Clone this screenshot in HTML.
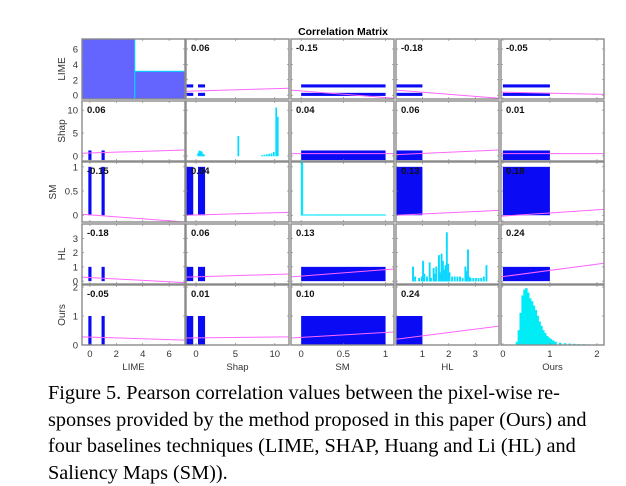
<!DOCTYPE html>
<html><head><meta charset="utf-8">
<style>
body{margin:0;background:#fff;width:626px;height:486px;overflow:hidden;position:relative}
svg{position:absolute;left:0;top:0}
#cap{position:absolute;left:48px;top:380px;width:502px;font-family:"Liberation Serif",serif;font-size:20.3px;line-height:26.5px;color:#000}
#cap div{text-align:justify;text-align-last:justify;white-space:nowrap}
#cap div.last{text-align-last:left}
</style></head><body>
<svg id="chart" width="626" height="372" xmlns="http://www.w3.org/2000/svg" font-family="Liberation Sans, sans-serif">
<text x="343" y="35" text-anchor="middle" font-size="10.5" font-weight="bold">Correlation Matrix</text>
</svg>
<div id="cap"><div>Figure 5. Pearson correlation values between the pixel-wise re-</div><div>sponses provided by the method proposed in this paper (Ours) and</div><div>four baselines techniques (LIME, SHAP, Huang and Li (HL) and</div><div class="last">Saliency Maps (SM)).</div></div>
<script>
const varNames=["LIME","Shap","SM","HL","Ours"];
const corr=[[null,0.06,-0.15,-0.18,-0.05],[0.06,null,0.04,0.06,0.01],[-0.15,0.04,null,0.13,0.18],[-0.18,0.06,0.13,null,0.24],[-0.05,0.01,0.10,0.24,null]];
// fit lines: value at left edge / right edge of panel [row][col]
const fitLeft=[[null,0.5,0.65,0.65,0.4],[0.6,null,0.5,0.3,0.5],[0.02,0.0,null,0.0,-0.02],[0.28,0.28,0.3,null,0.3],[0.28,0.24,0.24,0.2,null]];
const fitRight=[[null,0.9,-0.4,-0.4,0.1],[1.3,null,0.5,1.3,0.5],[-0.14,0.06,null,0.1,0.12],[-0.1,0.5,0.85,null,1.25],[0.17,0.28,0.45,0.65,null]];
// value clusters per variable (min,max segments)
const clusterMin=[[-0.12,0.88],[-1.2,0.25],[0],[0],[0]];
const clusterMax=[[0.12,1.12],[-0.35,1.15],[1],[1],[1]];
const bandMinY=[[-0.1,1.0],[-0.9],[0],[0],[0]];
const bandMaxY=[[0.3,1.4],[1.2],[1],[1],[1]];
const xTicks=[[0,2,4,6],[0,5,10],[0,0.5,1],[1,2,3],[0,1,2]];
const yTicks=[[0,2,4,6],[0,5,10],[0,0.5,1],[0,1,2,3],[0,1,2]];
const xMin=[-0.6,-1.27,-0.12,0,-0.04], xMax=[7.2,11.8,1.1,3.9,2.15];
const yMin=[-0.5,-1.1,-0.14,-0.2,0], yMax=[7.3,12,1.1,4.0,2.07];
// histograms
const limeHistX=[-0.6,3.4], limeHistW=[4.0,3.8], limeHistH=[7.3,3.1];
const shapHistX=[0.2,0.35,0.5,0.65,0.8,0.95,5.3,8.3,8.6,8.9,9.2,9.5,9.8,10.1,10.3];
const shapHistH=[0.6,1.1,1.0,0.9,0.4,0.2,4.3,0.1,0.2,0.3,0.4,0.5,0.8,10.5,8.5];
const smHistX=[0.0,0.02,0.2,0.4,0.6,0.8], smHistH=[1.12,0.01,0.01,0.01,0.01,0.01];
const hlHistX=[0.62,0.7,0.85,0.95,1.0,1.05,1.15,1.25,1.3,1.4,1.45,1.5,1.6,1.65,1.7,1.75,1.8,1.85,1.9,1.95,2.0,2.1,2.2,2.3,2.4,2.5,2.6,2.65,2.7,2.75,2.8,2.9,3.0,3.1,3.2,3.3,3.4];
const hlHistH=[1.0,0.3,0.2,0.3,1.4,0.5,0.3,1.3,0.2,0.9,0.5,1.0,1.8,0.6,1.9,1.4,0.8,1.1,3.4,1.2,0.6,0.3,0.3,0.3,0.3,0.2,1.0,0.7,2.2,0.3,0.2,0.2,0.2,0.2,0.2,0.3,1.1];
const oursHistX=[0.28,0.32,0.36,0.4,0.44,0.48,0.52,0.56,0.6,0.64,0.68,0.72,0.76,0.8,0.84,0.88,0.92,0.96,1.0,1.05,1.1,1.2,1.3,1.4,1.5,1.6,1.7,1.8];
const oursHistH=[0.1,0.5,1.1,1.7,1.9,1.95,1.8,1.6,1.5,1.35,1.2,1.0,0.8,0.65,0.5,0.4,0.3,0.25,0.2,0.15,0.1,0.07,0.05,0.04,0.03,0.02,0.02,0.01];
const smHistW=[0.02,0.2,0.2,0.2,0.2,0.2];

const svg=document.getElementById('chart');
const NS="http://www.w3.org/2000/svg";
const colL=[82,186,291,396,501], PW=103;
const rowT=[39,101,162,224,285], PH=60;
function sx(c,v){return colL[c]+(v-xMin[c])/(xMax[c]-xMin[c])*PW;}
function sy(r,v){return rowT[r]+PH-(v-yMin[r])/(yMax[r]-yMin[r])*PH;}
function mk(tag,attrs){const e=document.createElementNS(NS,tag);for(const k in attrs)e.setAttribute(k,attrs[k]);svg.appendChild(e);return e;}
function bars(r,c,xs,hs,w,fill,stroke){
  for(let i=0;i<xs.length;i++){
    const ww=Array.isArray(w)?w[i]:w;
    const x0=sx(c,xs[i]),x1=sx(c,xs[i]+ww),y=sy(r,hs[i]),yb=sy(r,Math.max(0,yMin[r]));
    const e=mk('rect',{x:x0,y:y,width:Math.max(1,x1-x0),height:Math.max(0.5,yb-y),fill:fill,stroke:stroke,'stroke-width':0.6});
    
    
  }
}
for(let r=0;r<5;r++)for(let c=0;c<5;c++){
  const g=mk('rect',{x:colL[c],y:rowT[r],width:PW,height:PH,fill:'#fff',stroke:'none'});
  
  
  if(r===c){
    if(r===0){for(let i=0;i<2;i++){const e=mk('rect',{x:sx(0,limeHistX[i]),y:sy(0,limeHistH[i]),width:sx(0,limeHistX[i]+limeHistW[i])-sx(0,limeHistX[i]),height:sy(0,yMin[0])-sy(0,limeHistH[i]),fill:'#6464ff',stroke:'#00dcff','stroke-width':1});}}
    if(r===1)bars(1,1,shapHistX,shapHistH,0.15,'#1ec8ff','#00e5ff');
    if(r===2)bars(2,2,smHistX,smHistH,smHistW,'#00e5ff','#00e5ff');
    if(r===3)bars(3,3,hlHistX,hlHistH,0.05,'#1ec8ff','#00e5ff');
    if(r===4)bars(4,4,oursHistX,oursHistH,0.04,'#00f0f0','#00e5ff');
  } else {
    for(let a=0;a<clusterMin[c].length;a++)for(let b=0;b<bandMinY[r].length;b++){
      const x0=Math.max(colL[c],sx(c,clusterMin[c][a])),x1=sx(c,clusterMax[c][a]);
      const y0=sy(r,bandMaxY[r][b]),y1=Math.min(rowT[r]+PH,sy(r,bandMinY[r][b]));
      const e=mk('rect',{x:x0,y:y0,width:x1-x0,height:y1-y0,fill:'#0a0af5'});
      
      
    }
    const l=mk('line',{x1:colL[c],y1:sy(r,fitLeft[r][c]),x2:colL[c]+PW,y2:sy(r,fitRight[r][c]),stroke:'#ff66ff','stroke-width':1});
    
    
    const t=mk('text',{x:colL[c]+5,y:rowT[r]+12,'font-size':9.5,'font-weight':'bold',fill:'#111'});
    t.textContent=corr[r][c].toFixed(2);
    
    
  }
  for(const v of xTicks[c]){const x=sx(c,v);mk('line',{x1:x,y1:rowT[r]+PH,x2:x,y2:rowT[r]+PH-2,stroke:'#777','stroke-width':0.6});mk('line',{x1:x,y1:rowT[r],x2:x,y2:rowT[r]+2,stroke:'#777','stroke-width':0.6});}
  for(const v of yTicks[r]){const y=sy(r,v);mk('line',{x1:colL[c],y1:y,x2:colL[c]+2,y2:y,stroke:'#777','stroke-width':0.6});mk('line',{x1:colL[c]+PW,y1:y,x2:colL[c]+PW-2,y2:y,stroke:'#777','stroke-width':0.6});}
  const b=mk('rect',{x:colL[c],y:rowT[r],width:PW,height:PH,fill:'none',stroke:'#8a8a8a','stroke-width':1.4});
  
  
}
for(let c=0;c<5;c++){
  for(const v of xTicks[c]){const t=mk('text',{x:sx(c,v),y:357,'font-size':9.5,'text-anchor':'middle',fill:'#333'});t.textContent=String(v);}
  const t=mk('text',{x:colL[c]+PW/2,y:370,'font-size':9.5,'text-anchor':'middle',fill:'#333'});t.textContent=varNames[c];
  
  
}
for(let r=0;r<5;r++){
  for(const v of yTicks[r]){const t=mk('text',{x:78,y:sy(r,v)+3.5,'font-size':9.5,'text-anchor':'end',fill:'#333'});t.textContent=String(v);}
  const cy=rowT[r]+PH/2;
  const t=mk('text',{x:0,y:0,'font-size':10,'text-anchor':'middle',fill:'#333',transform:'translate('+(r===2?56:65)+','+cy+') rotate(-90)'});t.textContent=varNames[r];
  
  
}
</script>
</body></html>
